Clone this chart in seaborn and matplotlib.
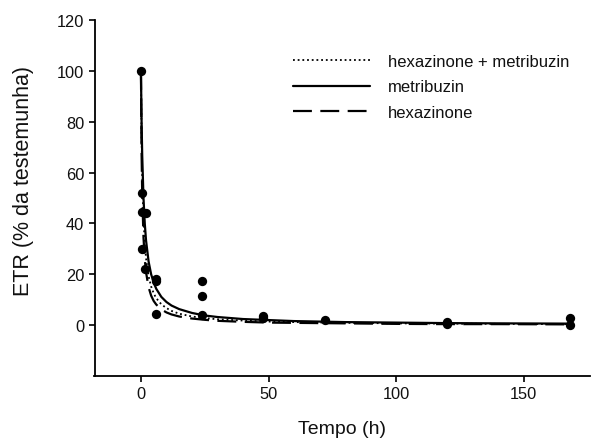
import numpy as np
import pandas as pd
import matplotlib
matplotlib.use("Agg")
import matplotlib.pyplot as plt
import seaborn as sns

# Observed points (time in h, ETR % of control)
obs_t = [0, 0.5, 0.5, 2, 0.5, 1.5, 6, 6, 6, 24, 24, 24, 48, 48, 72, 120, 120, 168, 168]
obs_y = [100, 52, 44.5, 44, 30, 22, 18.3, 17.2, 4.5, 17.2, 11.5, 4, 3.7, 3, 2.1, 1.1, 0.6, 3, 0]

# Fitted curves
curve_t = [0, 0.25, 0.5, 1, 1.5, 2, 3, 4, 5, 6, 8, 10, 12, 15, 20, 25, 30, 40, 50, 60, 80, 100, 120, 140, 168]
hex_met = [100, 74.1, 58.8, 41.7, 32.3, 26.3, 19.2, 15.2, 12.5, 10.6, 8.2, 6.7, 5.6, 4.5, 3.4, 2.8, 2.3, 1.8, 1.4, 1.2, 0.9, 0.7, 0.6, 0.5, 0.4]
metribuzin = [100, 80, 66.7, 50, 40, 33.3, 25, 20, 16.7, 14.3, 11.1, 9.1, 7.7, 6.3, 4.8, 3.8, 3.2, 2.4, 2.0, 1.6, 1.2, 1.0, 0.8, 0.7, 0.6]
hexazinone = [100, 67.8, 51.3, 34.5, 26.0, 20.8, 14.9, 11.6, 9.5, 8.1, 6.2, 5.0, 4.2, 3.4, 2.6, 2.1, 1.7, 1.3, 1.0, 0.9, 0.7, 0.5, 0.4, 0.4, 0.3]

labels = ["hexazinone + metribuzin", "metribuzin", "hexazinone"]
x_ticks = [0, 50, 100, 150]
y_ticks = [0, 20, 40, 60, 80, 100, 120]

sns.set_style("ticks")
plt.rcParams['font.family'] = ['Liberation Sans', 'DejaVu Sans']

W, H = 595, 439
fig = plt.figure(figsize=(W / 100, H / 100), dpi=100)
ax = fig.add_axes([94.5 / W, 1 - 377 / H, (590 - 94.5) / W, (377 - 21) / H])

curves = pd.DataFrame({
    "t": curve_t * 3,
    "y": hex_met + metribuzin + hexazinone,
    "serie": [labels[0]] * len(curve_t) + [labels[1]] * len(curve_t) + [labels[2]] * len(curve_t),
})
styles = {
    labels[0]: dict(ls=(0, (1.0, 1.6)), lw=1.3),
    labels[1]: dict(ls='-', lw=1.6),
    labels[2]: dict(ls=(0, (8.5, 3.8)), lw=1.6),
}
for lab in labels:
    sub = curves[curves["serie"] == lab]
    sns.lineplot(data=sub, x="t", y="y", ax=ax, color="black", estimator=None,
                 sort=False, linestyle=styles[lab]["ls"], linewidth=styles[lab]["lw"],
                 label=lab, legend=False)
lines = ax.get_lines()

pts = pd.DataFrame({"t": obs_t, "y": obs_y})
sns.scatterplot(data=pts, x="t", y="y", ax=ax, color="black", s=45, edgecolor="black",
                linewidth=0, zorder=5, legend=False)

ax.set_xlim(-18.2, 176)
ax.set_ylim(-20, 120)
ax.set_xticks(x_ticks)
ax.set_yticks(y_ticks)
for s in ["top", "right"]:
    ax.spines[s].set_visible(False)
for s in ["left", "bottom"]:
    ax.spines[s].set_linewidth(1.3)
    ax.spines[s].set_color("black")
ax.tick_params(axis="both", direction="out", length=4, width=1.2, color="black",
               labelsize=11.8, pad=3.5, labelcolor="#111111")
ax.set_xlabel("Tempo (h)", fontsize=14, color="#111111")
ax.set_ylabel("ETR (% da testemunha)", fontsize=15.5, color="#111111")
ax.xaxis.set_label_coords(0.5, -0.125)
ax.yaxis.set_label_coords(-0.123, 0.55)

leg = ax.legend(handles=lines[:3], labels=labels, frameon=False, fontsize=12,
                loc="upper left", bbox_to_anchor=(293 / W, 1 - 55 / H),
                bbox_transform=fig.transFigure, borderpad=0, borderaxespad=0,
                handlelength=4.6, handletextpad=1.1, labelspacing=0.62)
for txt in leg.get_texts():
    txt.set_color("#111111")

fig.savefig("out.png", dpi=100)
